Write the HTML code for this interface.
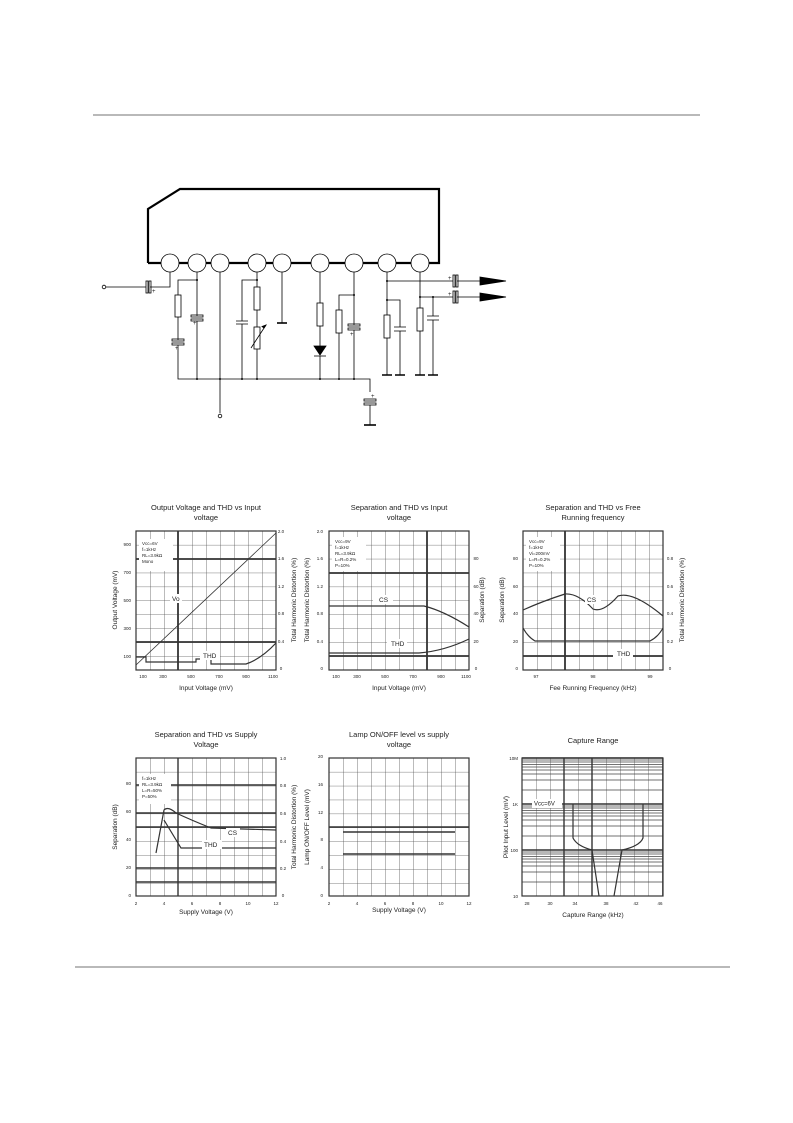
<!DOCTYPE html>
<html><head><meta charset="utf-8"><style>
html,body{margin:0;padding:0;background:#fff}
svg{display:block}
text{font-family:"Liberation Sans",sans-serif;fill:#222}
.t{font-size:7.5px;text-anchor:middle}
.s{font-size:4.5px}
.ax{font-size:6.5px;text-anchor:middle}
</style></head><body>
<svg width="793" height="1123" viewBox="0 0 793 1123" xmlns="http://www.w3.org/2000/svg">
<defs>
<pattern id="g" x="0" y="0" width="14" height="13.9" patternUnits="userSpaceOnUse">
<path d="M0 0V13.9M0 0H14" stroke="#555" stroke-width="0.8" fill="none"/>
</pattern>
<pattern id="lg" x="0" y="0" width="14" height="46" patternUnits="userSpaceOnUse">
<path d="M0 0V46" stroke="#555" stroke-width="0.8"/>
<path d="M0 0H14M0 2H14M0 4H14M0 6.5H14M0 9H14M0 12H14M0 16H14M0 22H14M0 32H14" stroke="#444" stroke-width="0.8"/>
</pattern>
</defs>
<line x1="93" y1="115" x2="700" y2="115" stroke="#444" stroke-width="0.8"/>
<line x1="75" y1="967" x2="730" y2="967" stroke="#444" stroke-width="0.8"/>

<!-- circuit -->
<g stroke="#000" fill="none" stroke-width="0.8">
<path d="M148 263V209L180 189H439V263H148" stroke-width="2.2" fill="#fff"/>
<g fill="#fff" stroke-width="0.8">
<circle cx="170" cy="263" r="9"/><circle cx="197" cy="263" r="9"/><circle cx="220" cy="263" r="9"/>
<circle cx="257" cy="263" r="9"/><circle cx="282" cy="263" r="9"/><circle cx="320" cy="263" r="9"/>
<circle cx="354" cy="263" r="9"/><circle cx="387" cy="263" r="9"/><circle cx="420" cy="263" r="9"/>
</g>
<!-- input -->
<circle cx="104" cy="287" r="1.8"/>
<path d="M106 287H146M150 287H170V272"/>
<rect x="146" y="281" width="2" height="12"/><rect x="149" y="281" width="2" height="12"/>
<!-- pin2 network -->
<path d="M197 272V280H178V295M178 317V340M178 345V379H370V392"/>
<rect x="175" y="295" width="6" height="22"/>
<rect x="172" y="339" width="12" height="2"/><rect x="172" y="343" width="12" height="2"/>
<path d="M197 280V316M197 321V379"/>
<rect x="191" y="315" width="12" height="2"/><rect x="191" y="319" width="12" height="2"/>
<!-- pin3 -->
<path d="M220 272V413"/><circle cx="220" cy="416" r="1.8"/>
<!-- pin4 -->
<path d="M257 272V280H242V321M242 324V379M257 280V287M257 310V327M257 349V379"/>
<path d="M236 321H248M236 324H248"/>
<rect x="254" y="287" width="6" height="23"/><rect x="254" y="327" width="6" height="22"/>
<path d="M251 348L266 325" />
<path d="M266 325l-4 1.5 2 1.5z" fill="#000"/>
<!-- pin5 ground -->
<path d="M282 272V323M277 323H287" />
<path d="M277 323H287" stroke-width="1.6"/>
<!-- pin6 -->
<path d="M320 272V303M320 326V346M320 356V379"/>
<rect x="317" y="303" width="6" height="23"/>
<path d="M314 346H326L320 355Z" fill="#000"/><path d="M314 356H326"/>
<!-- pin7 -->
<path d="M354 272V295H339V310M339 333V379M354 295V325M354 330V379"/>
<rect x="336" y="310" width="6" height="23"/>
<rect x="348" y="324" width="12" height="2"/><rect x="348" y="328" width="12" height="2"/>
<!-- bottom cap -->
<rect x="364" y="399" width="12" height="2"/><rect x="364" y="403" width="12" height="2"/>
<path d="M370 405V425M364 425H376" />
<path d="M364 425H376" stroke-width="1.6"/>
<!-- pin8 -->
<path d="M387 272V375M387 281H453M457 281H480M387 300H400V327M400 331V375"/>
<rect x="384" y="315" width="6" height="23" fill="#fff"/>
<rect x="453" y="275" width="2" height="12"/><rect x="456" y="275" width="2" height="12"/>
<path d="M394 327H406M394 331H406"/>
<path d="M382 375H392M395 375H405" stroke-width="1.6"/>
<!-- pin9 -->
<path d="M420 272V375M420 297H453M457 297H480M433 297V316M433 320V375"/>
<rect x="417" y="308" width="6" height="23" fill="#fff"/>
<rect x="453" y="291" width="2" height="12"/><rect x="456" y="291" width="2" height="12"/>
<path d="M427 316H439M427 320H439"/>
<path d="M415 375H425M428 375H438" stroke-width="1.6"/>
<path d="M480 277L506 281L480 285Z" fill="#000"/>
<path d="M480 293L506 297L480 301Z" fill="#000"/>
</g>
<g fill="#000">
<circle cx="197" cy="280" r="1"/><circle cx="257" cy="280" r="1"/><circle cx="354" cy="295" r="1"/>
<circle cx="387" cy="281" r="1"/><circle cx="387" cy="300" r="1"/><circle cx="420" cy="297" r="1"/><circle cx="433" cy="297" r="1"/>
<circle cx="197" cy="379" r="1"/><circle cx="220" cy="379" r="1"/><circle cx="242" cy="379" r="1"/><circle cx="257" cy="379" r="1"/>
<circle cx="320" cy="379" r="1"/><circle cx="339" cy="379" r="1"/><circle cx="354" cy="379" r="1"/>
</g>
<g class="s" font-size="6px"><text x="152" y="293" style="font-size:6px">+</text><text x="175" y="350" style="font-size:6px">+</text><text x="193" y="325" style="font-size:6px">+</text><text x="350" y="336" style="font-size:6px">+</text><text x="371" y="398" style="font-size:6px">+</text><text x="448" y="280" style="font-size:6px">+</text><text x="448" y="296" style="font-size:6px">+</text></g>

<!-- Chart 1 -->
<g transform="translate(136,531)">
<rect width="140" height="139" fill="url(#g)" stroke="#333" stroke-width="1.2"/>
<path d="M42 0V139M0 28H140M0 111H140" stroke="#333" stroke-width="1.8"/>
<path d="M0 134L140 2" stroke="#333" stroke-width="0.8"/>
<path d="M0 126H10V131H60V128H75V133H110Q125 128 140 112" stroke="#333" stroke-width="1.2" fill="none"/>
<rect x="3" y="8" width="34" height="32" fill="#fff"/>
<text class="s" x="6" y="14">Vcc=6V</text><text class="s" x="6" y="20">f=1kHz</text><text class="s" x="6" y="26">RL=3.9kΩ</text><text class="s" x="6" y="32">Mono</text>
<rect x="34" y="63" width="12" height="9" fill="#fff"/><text class="s" x="36" y="70" style="font-size:6.5px">Vo</text>
<rect x="64" y="120" width="20" height="9" fill="#fff"/><text class="s" x="67" y="127" style="font-size:6.5px">THD</text>
</g>
<text class="t" x="206" y="510">Output Voltage and THD vs Input</text><text class="t" x="206" y="520">voltage</text>
<g class="s" text-anchor="middle"><text x="131" y="546" text-anchor="end">900</text><text x="131" y="574" text-anchor="end">700</text><text x="131" y="602" text-anchor="end">500</text><text x="131" y="630" text-anchor="end">300</text><text x="131" y="658" text-anchor="end">100</text>
<text x="281" y="533">2.0</text><text x="281" y="560">1.6</text><text x="281" y="588">1.2</text><text x="281" y="615">0.8</text><text x="281" y="643">0.4</text><text x="281" y="670">0</text>
<text x="143" y="678" text-anchor="middle">100</text><text x="163" y="678" text-anchor="middle">300</text><text x="191" y="678" text-anchor="middle">500</text><text x="219" y="678" text-anchor="middle">700</text><text x="246" y="678" text-anchor="middle">900</text><text x="273" y="678" text-anchor="middle">1100</text></g>
<text class="ax" x="206" y="690">Input Voltage (mV)</text>
<text class="ax" transform="translate(117,600) rotate(-90)">Output Voltage (mV)</text>
<text class="ax" transform="translate(296,600) rotate(-90)">Total Harmonic Distortion (%)</text>

<!-- Chart 2 -->
<g transform="translate(329,531)">
<rect width="140" height="139" fill="url(#g)" stroke="#333" stroke-width="1.2"/>
<path d="M98 0V139M0 42H140M0 125H140" stroke="#333" stroke-width="1.8"/>
<path d="M0 75H95Q115 80 140 96" stroke="#333" stroke-width="1.2" fill="none"/>
<path d="M0 122H90Q115 120 140 108" stroke="#333" stroke-width="1.2" fill="none"/>
<rect x="3" y="6" width="34" height="34" fill="#fff"/>
<text class="s" x="6" y="12">Vcc=9V</text><text class="s" x="6" y="18">f=1kHz</text><text class="s" x="6" y="24">RL=3.9kΩ</text><text class="s" x="6" y="30">L=R=0.2%</text><text class="s" x="6" y="36">P=10%</text>
<rect x="44" y="64" width="20" height="9" fill="#fff"/><text class="s" x="50" y="71" style="font-size:6.5px">CS</text>
<rect x="58" y="108" width="20" height="9" fill="#fff"/><text class="s" x="62" y="115" style="font-size:6.5px">THD</text>
</g>
<text class="t" x="399" y="510">Separation and THD vs Input</text><text class="t" x="399" y="520">voltage</text>
<g class="s" text-anchor="middle"><text x="323" y="533" text-anchor="end">2.0</text><text x="323" y="560" text-anchor="end">1.6</text><text x="323" y="588" text-anchor="end">1.2</text><text x="323" y="615" text-anchor="end">0.8</text><text x="323" y="643" text-anchor="end">0.4</text><text x="323" y="670" text-anchor="end">0</text>
<text x="476" y="560">80</text><text x="476" y="588">60</text><text x="476" y="615">40</text><text x="476" y="643">20</text><text x="476" y="670">0</text>
<text x="336" y="678">100</text><text x="357" y="678">300</text><text x="385" y="678">500</text><text x="413" y="678">700</text><text x="441" y="678">900</text><text x="466" y="678">1100</text></g>
<text class="ax" x="399" y="690">Input Voltage (mV)</text>
<text class="ax" transform="translate(309,600) rotate(-90)">Total Harmonic Distortion (%)</text>
<text class="ax" transform="translate(484,600) rotate(-90)">Separation (dB)</text>

<!-- Chart 3 -->
<g transform="translate(523,531)">
<rect width="140" height="139" fill="url(#g)" stroke="#333" stroke-width="1.2"/>
<path d="M42 0V139M0 125H140" stroke="#333" stroke-width="1.8"/>
<path d="M0 79Q20 70 42 63Q55 62 70 78Q80 82 95 65Q110 60 140 85" stroke="#333" stroke-width="1.2" fill="none"/>
<path d="M0 97Q5 106 12 110H127Q135 106 140 97" stroke="#333" stroke-width="1.2" fill="none"/>
<rect x="3" y="6" width="34" height="34" fill="#fff"/>
<text class="s" x="6" y="12">Vcc=9V</text><text class="s" x="6" y="18">f=1kHz</text><text class="s" x="6" y="24">Vi=200mV</text><text class="s" x="6" y="30">L=R=0.2%</text><text class="s" x="6" y="36">P=10%</text>
<rect x="62" y="64" width="16" height="9" fill="#fff"/><text class="s" x="64" y="71" style="font-size:6.5px">CS</text>
<rect x="90" y="118" width="20" height="9" fill="#fff"/><text class="s" x="94" y="125" style="font-size:6.5px">THD</text>
</g>
<text class="t" x="593" y="510">Separation and THD vs Free</text><text class="t" x="593" y="520">Running frequency</text>
<g class="s" text-anchor="middle"><text x="518" y="560" text-anchor="end">80</text><text x="518" y="588" text-anchor="end">60</text><text x="518" y="615" text-anchor="end">40</text><text x="518" y="643" text-anchor="end">20</text><text x="518" y="670" text-anchor="end">0</text>
<text x="670" y="560">0.8</text><text x="670" y="588">0.6</text><text x="670" y="615">0.4</text><text x="670" y="643">0.2</text><text x="670" y="670">0</text>
<text x="536" y="678">97</text><text x="593" y="678">98</text><text x="650" y="678">99</text></g>
<text class="ax" x="593" y="690">Fee Running Frequency (kHz)</text>
<text class="ax" transform="translate(504,600) rotate(-90)">Separation (dB)</text>
<text class="ax" transform="translate(684,600) rotate(-90)">Total Harmonic Distortion (%)</text>

<!-- Chart 4 -->
<g transform="translate(136,758)">
<rect width="140" height="138" fill="url(#g)" stroke="#333" stroke-width="1.2"/>
<path d="M42 0V138M0 69H140M0 27H140M0 55H140M0 110H140M0 124H140" stroke="#333" stroke-width="1.4"/>
<path d="M20 95L28 52Q32 48 40 55Q55 62 75 70L140 72" stroke="#333" stroke-width="1.2" fill="none"/>
<path d="M28 62L45 90H140" stroke="#333" stroke-width="1.2" fill="none"/>
<rect x="3" y="16" width="32" height="30" fill="#fff"/>
<text class="s" x="6" y="22">f=1kHz</text><text class="s" x="6" y="28">RL=3.9kΩ</text><text class="s" x="6" y="34">L=R=50%</text><text class="s" x="6" y="40">P=50%</text>
<rect x="90" y="70" width="14" height="9" fill="#fff"/><text class="s" x="92" y="77" style="font-size:6.5px">CS</text>
<rect x="64" y="71" width="1" height="1" fill="none"/>
<rect x="66" y="82" width="20" height="9" fill="#fff"/><text class="s" x="68" y="89" style="font-size:6.5px">THD</text>
</g>
<text class="t" x="206" y="737">Separation and THD vs Supply</text><text class="t" x="206" y="747">Voltage</text>
<g class="s" text-anchor="middle"><text x="131" y="785" text-anchor="end">80</text><text x="131" y="813" text-anchor="end">60</text><text x="131" y="841" text-anchor="end">40</text><text x="131" y="869" text-anchor="end">20</text><text x="131" y="897" text-anchor="end">0</text>
<text x="283" y="760">1.0</text><text x="283" y="787">0.8</text><text x="283" y="815">0.6</text><text x="283" y="843">0.4</text><text x="283" y="870">0.2</text><text x="283" y="897">0</text>
<text x="136" y="905">2</text><text x="164" y="905">4</text><text x="192" y="905">6</text><text x="220" y="905">8</text><text x="248" y="905">10</text><text x="276" y="905">12</text></g>
<text class="ax" x="206" y="914">Supply Voltage (V)</text>
<text class="ax" transform="translate(117,827) rotate(-90)">Separation (dB)</text>
<text class="ax" transform="translate(296,827) rotate(-90)">Total Harmonic Distortion (%)</text>

<!-- Chart 5 -->
<g transform="translate(329,758)">
<rect width="140" height="138" fill="url(#g)" stroke="#333" stroke-width="1.2"/>
<path d="M0 69H140" stroke="#333" stroke-width="1.4"/>
<path d="M14 74H126M14 96H126" stroke="#333" stroke-width="1.4"/>
</g>
<text class="t" x="399" y="737">Lamp ON/OFF level vs supply</text><text class="t" x="399" y="747">voltage</text>
<g class="s" text-anchor="middle"><text x="323" y="758" text-anchor="end">20</text><text x="323" y="786" text-anchor="end">16</text><text x="323" y="814" text-anchor="end">12</text><text x="323" y="841" text-anchor="end">8</text><text x="323" y="869" text-anchor="end">4</text><text x="323" y="897" text-anchor="end">0</text>
<text x="329" y="905">2</text><text x="357" y="905">4</text><text x="385" y="905">6</text><text x="413" y="905">8</text><text x="441" y="905">10</text><text x="469" y="905">12</text></g>
<text class="ax" x="399" y="912">Supply Voltage (V)</text>
<text class="ax" transform="translate(309,827) rotate(-90)">Lamp ON/OFF Level (mV)</text>

<!-- Chart 6 -->
<g transform="translate(522,758)">
<rect width="141" height="138" fill="url(#lg)" stroke="#333" stroke-width="1.2"/>
<path d="M0 0H141M0 46H141M0 92H141" stroke="#333" stroke-width="1.6"/>
<path d="M42 0V138M70 0V138" stroke="#333" stroke-width="1.4"/>
<path d="M51 46V80Q55 88 70 92L77 138M121 46V80Q118 88 100 92L92 138" stroke="#333" stroke-width="1.2" fill="none"/>
<rect x="10" y="41" width="30" height="9" fill="#fff"/><text class="s" x="12" y="47.5" style="font-size:6px">Vcc=6V</text>
</g>
<text class="t" x="593" y="743">Capture Range</text>
<g class="s"><text x="518" y="760" text-anchor="end">10M</text><text x="518" y="806" text-anchor="end">1K</text><text x="518" y="852" text-anchor="end">100</text><text x="518" y="898" text-anchor="end">10</text>
<text x="527" y="905" text-anchor="middle">28</text><text x="550" y="905" text-anchor="middle">30</text><text x="575" y="905" text-anchor="middle">34</text><text x="606" y="905" text-anchor="middle">38</text><text x="636" y="905" text-anchor="middle">42</text><text x="660" y="905" text-anchor="middle">46</text></g>
<text class="ax" x="593" y="917">Capture Range (kHz)</text>
<text class="ax" transform="translate(508,827) rotate(-90)">Pilot Input Level (mV)</text>
</svg>
</body></html>
